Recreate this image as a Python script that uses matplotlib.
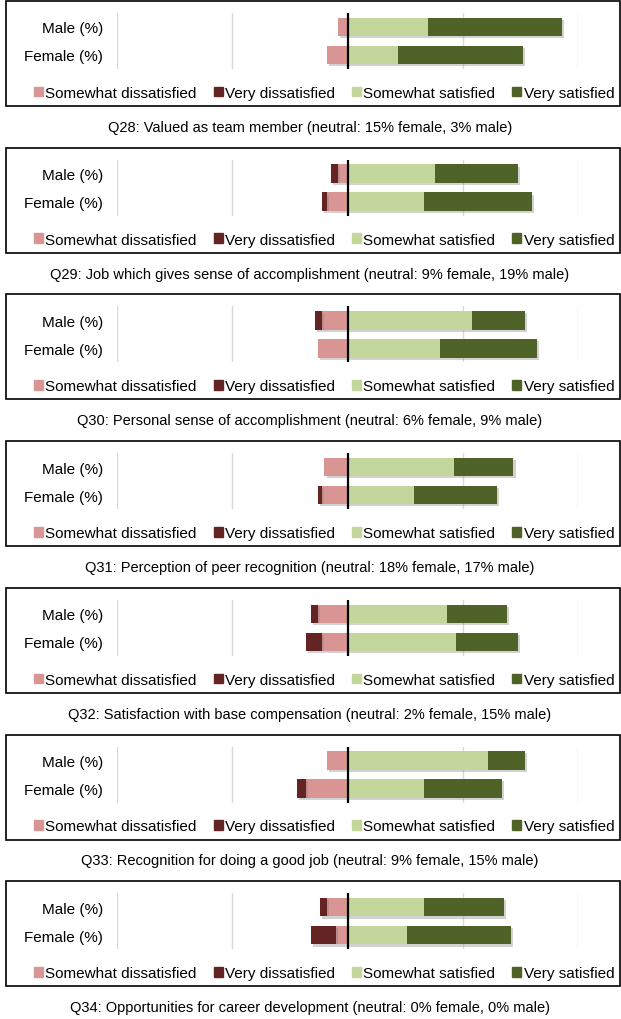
import matplotlib
matplotlib.use('Agg')
import matplotlib.pyplot as plt
from matplotlib.patches import Rectangle, Patch
import matplotlib.patheffects as pe
import numpy as np

plt.rcParams['font.family'] = ['Liberation Sans', 'DejaVu Sans']

W, H = 621, 1020

titles = [
    'Q28: Valued as team member (neutral: 15% female, 3% male)',
    'Q29: Job which gives sense of accomplishment (neutral: 9% female, 19% male)',
    'Q30: Personal sense of accomplishment (neutral: 6% female, 9% male)',
    'Q31: Perception of peer recognition (neutral: 18% female, 17% male)',
    'Q32: Satisfaction with base compensation (neutral: 2% female, 15% male)',
    'Q33: Recognition for doing a good job (neutral: 9% female, 15% male)',
    'Q34: Opportunities for career development (neutral: 0% female, 0% male)',
]
groups = ['Male (%)', 'Female (%)']

# percentages per question, [male, female]
very_dissat = [[0, 0], [3, 2], [3, 0], [0, 2], [3, 7], [0, 4], [3, 11]]
some_dissat = [[4, 9], [4, 9], [11, 13], [10, 11], [13, 11], [9, 18], [9, 5]]
some_sat = [[35, 22], [38, 33], [54, 40], [46, 29], [43, 47], [61, 33], [33, 26]]
very_sat = [[58, 54], [36, 47], [23, 42], [26, 36], [26, 27], [16, 34], [35, 45]]

C_SD = '#D99594'
C_VD = '#632423'
C_SS = '#C3D69B'
C_VS = '#4F6228'

fig = plt.figure(figsize=(W / 100, H / 100), dpi=100)

def fx(x):
    return x / W

def fy(y):
    return 1 - y / H

pitch = 146.7
shadow = [pe.SimplePatchShadow(offset=(1.5, -1.5), shadow_rgbFace='#808080', alpha=0.35), pe.Normal()]

for i, title in enumerate(titles):
    top = 2 + i * pitch
    # panel frame
    fig.patches.append(Rectangle((fx(5.5), fy(top + 105)), fx(614), 105 / H,
                                 transform=fig.transFigure, fill=False,
                                 edgecolor='black', linewidth=1.2))
    ax = fig.add_axes([fx(117), fy(top + 68), fx(461), 56 / H])
    y = np.arange(len(groups))
    sd = np.array(some_dissat[i])
    vd = np.array(very_dissat[i])
    ss = np.array(some_sat[i])
    vs = np.array(very_sat[i])
    bars = []
    bars += ax.barh(y, -sd, height=0.66, color=C_SD, zorder=2)
    bars += ax.barh(y, -vd, left=-sd, height=0.66, color=C_VD, zorder=2)
    bars += ax.barh(y, ss, height=0.66, color=C_SS, zorder=2)
    bars += ax.barh(y, vs, left=ss, height=0.66, color=C_VS, zorder=2)
    for b in bars:
        b.set_path_effects(shadow)
    for gx in [-100, -50, 50, 100]:
        ax.axvline(gx, color='#D9D9D9', linewidth=1.0, zorder=0)
    ax.axvline(0, color='black', linewidth=1.6, zorder=3)
    ax.set_xlim(-100, 100)
    ax.set_ylim(1.5, -0.5)
    ax.set_yticks(y)
    ax.set_yticklabels(groups, fontsize=11)
    ax.set_xticks([])
    ax.tick_params(axis='y', length=0, pad=10)
    for s in ax.spines.values():
        s.set_visible(False)
    ax.patch.set_alpha(0)

    handles = [Patch(color=C_SD), Patch(color=C_VD), Patch(color=C_SS), Patch(color=C_VS)]
    labels = ['Somewhat dissatisfied', 'Very dissatisfied', 'Somewhat satisfied', 'Very satisfied']
    fig.legend(handles, labels, loc='center', bbox_to_anchor=(fx(324), fy(top + 92)),
               ncol=4, frameon=False, fontsize=11, handlelength=0.6, handleheight=0.6,
               handletextpad=0.15, columnspacing=1.1, borderpad=0)

    fig.text(fx(310), fy(top + 126), title, ha='center', va='center', fontsize=10.5)

fig.savefig('out.png', dpi=100, facecolor='white')
